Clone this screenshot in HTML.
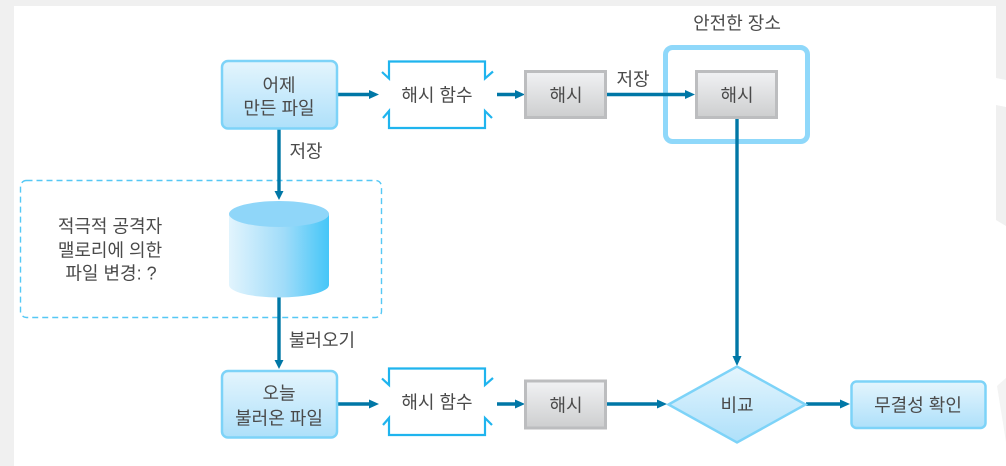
<!DOCTYPE html>
<html lang="ko">
<head>
<meta charset="utf-8">
<style>
html,body{margin:0;padding:0;width:1006px;height:466px;overflow:hidden;background:#fff}
svg{display:block}
text{font-family:"Liberation Sans","Noto Sans CJK KR",sans-serif;font-size:18px;fill:#4a4a4a;text-anchor:middle;dominant-baseline:central}
</style>
</head>
<body>
<svg width="1006" height="466" viewBox="0 0 1006 466" xmlns="http://www.w3.org/2000/svg">
<defs>
<linearGradient id="blue" x1="0" y1="0" x2="0" y2="1"><stop offset="0" stop-color="#e4f5fd"/><stop offset="1" stop-color="#aee0fa"/></linearGradient>
<linearGradient id="gray" x1="0" y1="0" x2="0" y2="1"><stop offset="0" stop-color="#f1f2f4"/><stop offset="1" stop-color="#cdcecf"/></linearGradient>
<linearGradient id="cyl" x1="0" y1="0" x2="1" y2="0"><stop offset="0" stop-color="#e2f4fd"/><stop offset="0.55" stop-color="#a0dcf9"/><stop offset="1" stop-color="#45c6f8"/></linearGradient>
</defs>

<rect width="1006" height="6" fill="#f0f0f0"/>
<rect y="0" width="14" height="466" fill="#f0f0f0"/>
<polygon points="996,6 1006,6 1006,80 996,78" fill="#f0f0f0"/>
<polygon points="996,105 1006,107 1006,226 996,220" fill="#f0f0f0"/>
<polygon points="997,386 1006,378 1006,442" fill="#f3f3f3"/>

<!-- dashed region -->
<rect x="20.5" y="180.5" width="361" height="137" rx="6" fill="none" stroke="#55c8f5" stroke-width="1.4" stroke-dasharray="6 4"/>

<!-- secure box -->
<rect x="665.5" y="47.5" width="142" height="94" rx="7" fill="none" stroke="#8fd8fa" stroke-width="5"/>

<!-- lines -->
<g stroke="#0077a6" stroke-width="3.4" fill="none">
<line x1="337" y1="94.5" x2="370" y2="94.5"/>
<line x1="497" y1="94.5" x2="516" y2="94.5"/>
<line x1="607" y1="94.5" x2="686" y2="94.5"/>
<line x1="737" y1="119" x2="737" y2="356"/>
<line x1="279" y1="129" x2="279" y2="191"/>
<line x1="279" y1="297" x2="279" y2="360"/>
<line x1="337" y1="404" x2="370" y2="404"/>
<line x1="497" y1="404" x2="516" y2="404"/>
<line x1="607" y1="404" x2="658" y2="404"/>
<line x1="806" y1="404" x2="841" y2="404"/>
</g>
<g fill="#0077a6">
<polygon points="369,90 379,94.5 369,99"/>
<polygon points="515,90 525,94.5 515,99"/>
<polygon points="685,90 695,94.5 685,99"/>
<polygon points="732.5,356 741.5,356 737,366"/>
<polygon points="274.5,191 283.5,191 279,200"/>
<polygon points="274.5,360 283.5,360 279,369"/>
<polygon points="369,399.5 379,404 369,408.5"/>
<polygon points="515,399.5 525,404 515,408.5"/>
<polygon points="657,399.5 667,404 657,408.5"/>
<polygon points="840,399.5 850,404 840,408.5"/>
</g>

<!-- boxes -->
<rect x="222" y="61" width="115" height="67.5" rx="6" fill="url(#blue)" stroke="#7dd3f8" stroke-width="2.5"/>
<rect x="222" y="371" width="115" height="66.5" rx="6" fill="url(#blue)" stroke="#7dd3f8" stroke-width="2.5"/>
<rect x="851.5" y="381.5" width="134" height="46.5" rx="5" fill="url(#blue)" stroke="#7dd3f8" stroke-width="2.5"/>

<!-- hash function brackets -->
<g fill="none" stroke="#1fb4ee" stroke-width="2.2">
<polyline points="382,72 389,78.5 389,61.5 485,61.5 485,78.5 493,71.5"/>
<polyline points="383,118 389,111 389,128 485,128 485,111 492,118"/>
<polyline points="382,378.5 389,385 389,368.5 485,368.5 485,385 493,378"/>
<polyline points="383,425 389,418 389,435 485,435 485,418 492,425"/>
</g>

<!-- hash boxes -->
<g fill="url(#gray)" stroke="#bcbdbf" stroke-width="3">
<rect x="525.5" y="71.5" width="80" height="46"/>
<rect x="696.5" y="71.5" width="80" height="46"/>
<rect x="525.5" y="381" width="80" height="47"/>
</g>

<!-- cylinder -->
<path d="M229 214 V285 A50 12.5 0 0 0 329 285 V214 Z" fill="url(#cyl)"/>
<ellipse cx="279" cy="214" rx="50" ry="13" fill="#8fd6f9"/>

<!-- diamond -->
<polygon points="668.5,404.5 737,366.5 805.5,404.5 737,442.5" fill="url(#blue)" stroke="#7dd3f8" stroke-width="2.5"/>

<!-- labels -->
<g transform="translate(0,1.5)">
<text x="279" y="84">어제</text>
<text x="279" y="107">만든 파일</text>
<text x="437" y="94">해시 함수</text>
<text x="566" y="94">해시</text>
<text x="737" y="94">해시</text>
<text x="633" y="78">저장</text>
<text x="737" y="22">안전한 장소</text>
<text x="306" y="150">저장</text>
<text x="110" y="225">적극적 공격자</text>
<text x="110" y="249">맬로리에 의한</text>
<text x="111" y="272">파일 변경: ?</text>
<text x="322" y="339">불러오기</text>
<text x="279" y="392">오늘</text>
<text x="279" y="417">불러온 파일</text>
<text x="437" y="401">해시 함수</text>
<text x="566" y="404">해시</text>
<text x="737" y="404">비교</text>
<text x="918" y="404">무결성 확인</text>
</g>
</svg>
</body>
</html>
